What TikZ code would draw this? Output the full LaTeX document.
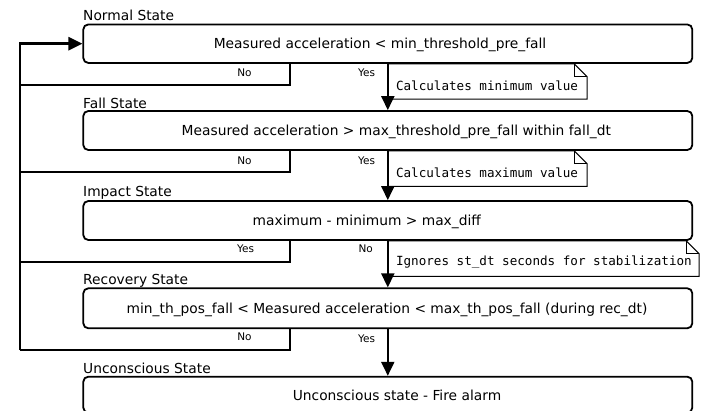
\documentclass[tikz,border=0pt]{standalone}
\usepackage{fontspec}
\setmainfont{DejaVu Sans}
\newfontfamily\notemono{DejaVu Sans Mono}
\usetikzlibrary{arrows.meta,calc}

% folded-corner outline around a note node
\newcommand\dogear[1]{%
  \draw[noteline] (#1.north west) -- ([xshift=-13pt]#1.north east)
    -- ([yshift=-13pt]#1.north east) -- (#1.south east) -- (#1.south west) -- cycle;
  \draw[noteline] ([xshift=-13pt]#1.north east) |- ([yshift=-13pt]#1.north east);
}

\tikzset{
  statebox/.style={draw, line width=1.8pt, rounded corners=5pt,
    minimum width=609pt, minimum height=39pt, inner sep=0pt},
  boxtext/.style={inner sep=0pt, font=\fontsize{13.8}{16}\selectfont,
    text height=13.6pt, text depth=3pt},
  statelabel/.style={anchor=base west, inner sep=0pt, font=\fontsize{13.8}{16}\selectfont},
  answer/.style={anchor=base, inner sep=0pt, font=\fontsize{10.5}{12}\selectfont},
  notebox/.style={anchor=north west, inner sep=0pt, minimum height=35pt},
  notetext/.style={anchor=west, inner sep=0pt, font=\notemono\fontsize{12.6}{15}\selectfont},
  noteline/.style={line width=1pt},
  flow/.style={line width=2pt, -{Triangle[length=14pt,width=13pt]}},
  branch/.style={line width=2pt},
  trunk/.style={line width=2.8pt, -{Triangle[length=14pt,width=13pt]}},
}

\begin{document}
\begin{tikzpicture}[x=1pt, y=-1pt]
\useasboundingbox (0,0) rectangle (706,411);
\clip (0,0) rectangle (706,411);

% states
\node[statebox, minimum height=38.5pt] (box1) at (387.8,43.7) {};
\node[statebox] (box2) at (387.8,130.5) {};
\node[statebox] (box3) at (387.8,220.5) {};
\node[statebox, minimum height=40pt] (box4) at (387.8,308.3) {};
\node[statebox, minimum height=36pt] (box5) at (387.8,394.7) {};

% conditions inside the states
\node[boxtext] (txt1) at ($(box1)+(-7.8,0)$) {Measured acceleration < min\_threshold\_pre\_fall};
\node[boxtext] (txt2) at ($(box2)+(8.5,0)$) {Measured acceleration > max\_threshold\_pre\_fall within fall\_dt};
\node[boxtext] (txt3) at ($(box3)+(-21,0)$) {maximum - minimum > max\_diff};
\node[boxtext] (txt4) at ($(box4)+(-0.8,0)$) {min\_th\_pos\_fall < Measured acceleration < max\_th\_pos\_fall (during rec\_dt)};
\node[boxtext] (txt5) at ($(box5)+(9.2,0)$) {Unconscious state - Fire alarm};

% state titles
\node[statelabel] (lab1) at (83,20.7) {Normal State};
\node[statelabel] (lab2) at (83,108.5) {Fall State};
\node[statelabel] (lab3) at (83,196.7) {Impact State};
\node[statelabel] (lab4) at (83,285) {Recovery State};
\node[statelabel] (lab5) at (83,373) {Unconscious State};

% forward transitions
\draw[flow] (box1.south) -- (box2.north);
\draw[flow] (box2.south) -- (box3.north);
\draw[flow] (box3.south) -- (box4.north);
\draw[flow] (box4.south) -- (box5.north);

% notes beside the transitions
\node[notebox, minimum width=199pt] (note1) at (box1.south) {};
\dogear{note1}
\node[notetext] (note1txt) at ($(note1.west)+(8,4)$) {Calculates minimum value};
\node[notebox, minimum width=199pt] (note2) at (box2.south) {};
\dogear{note2}
\node[notetext] (note2txt) at ($(note2.west)+(8,4)$) {Calculates maximum value};
\node[notebox, minimum width=311pt] (note3) at (box3.south) {};
\dogear{note3}
\node[notetext] (note3txt) at ($(note3.west)+(8,4)$) {Ignores st\_dt seconds for stabilization};

% return path to the normal state
\coordinate (bx) at (290,0);
\coordinate (j1) at (20,85);
\coordinate (j2) at (20,172.3);
\coordinate (j3) at (20,261.7);
\coordinate (j4) at (20,350);
\draw[branch] (box1.south -| bx) |- (j1);
\draw[branch] (box2.south -| bx) |- (j2);
\draw[branch] (box3.south -| bx) |- (j3);
\draw[branch] (box4.south -| bx) |- (j4);
\draw[trunk] (j4) -- (box1.west -| j4) -- (box1.west);

% answers
\node[answer] (a1n) at (244.5,77) {No};
\node[answer] (a1y) at (366.5,77) {Yes};
\node[answer] (a2n) at (244.5,164.5) {No};
\node[answer] (a2y) at (366.5,164.5) {Yes};
\node[answer] (a3y) at (245.5,253) {Yes};
\node[answer] (a3n) at (365.7,253) {No};
\node[answer] (a4n) at (244.5,340.7) {No};
\node[answer] (a4y) at (366.5,342.5) {Yes};
\end{tikzpicture}
\end{document}
